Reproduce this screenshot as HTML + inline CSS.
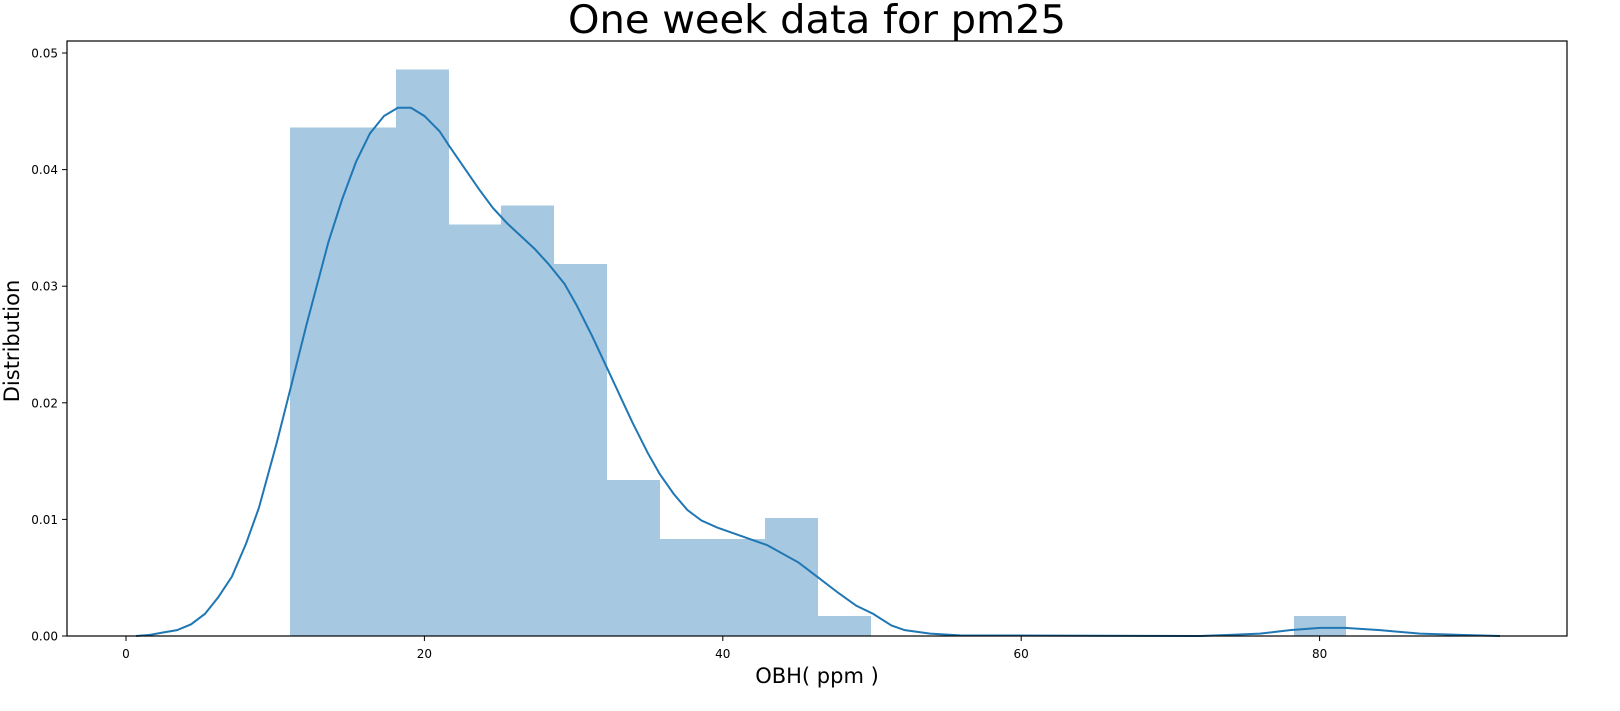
<!DOCTYPE html>
<html><head><meta charset="utf-8"><style>
body{margin:0;background:#fff;width:1620px;height:711px;overflow:hidden}
svg{display:block;font-family:"DejaVu Sans","Liberation Sans",sans-serif}
</style></head><body>
<svg id="chart" width="1620" height="711">
<text x="817" y="33" font-size="39" text-anchor="middle" textLength="498" lengthAdjust="spacingAndGlyphs">One week data for pm25</text>
<g id="bars" shape-rendering="crispEdges"></g>
<polyline id="kde" fill="none" stroke="#1f77b4" stroke-width="2"/>
<rect x="67" y="41" width="1500" height="595" fill="none" stroke="#000" stroke-width="1.2"/>
<g id="xticks"></g>
<g id="yticks"></g>
<text x="817" y="683" font-size="21" text-anchor="middle">OBH( ppm )</text>
<text transform="translate(19,341) rotate(-90)" font-size="21" text-anchor="middle">Distribution</text>
</svg>
<script>
const binStart = 11.0;
const binWidth = 3.54;
const binHeights = [0.0436,0.0436,0.0486,0.0353,0.0369,0.0319,0.0134,0.0083,0.0083,0.0101,0.0017,0,0,0,0,0,0,0,0,0.0017];
const kdeX = [0.67,1.61,2.48,3.42,4.36,5.29,6.17,7.10,8.04,8.91,10.11,11.04,12.10,13.57,14.50,15.43,16.35,17.29,18.22,19.10,20.00,21.01,21.68,23.67,24.60,25.54,27.39,28.32,29.39,30.19,31.25,32.31,33.91,34.97,35.77,36.70,37.63,38.57,39.63,40.96,42.96,45.08,46.41,47.74,48.94,50.08,51.3,52.2,53.9,55.9,71.98,74.0,76.0,78.02,80.03,81.70,84.05,86.73,89.41,92.09];
const kdeY = [0,0.0001,0.0003,0.0005,0.0010,0.0019,0.0033,0.0051,0.0079,0.0110,0.0166,0.0213,0.0267,0.0338,0.0375,0.0407,0.0431,0.0446,0.0453,0.0453,0.0446,0.0433,0.0420,0.0383,0.0367,0.0354,0.0332,0.0319,0.0302,0.0284,0.0257,0.0228,0.0184,0.0157,0.0139,0.0122,0.0108,0.0099,0.0093,0.0087,0.0078,0.0063,0.0050,0.0037,0.0026,0.0019,0.0009,0.0005,0.0002,0.00005,0,0.0001,0.0002,0.0005,0.0007,0.0007,0.0005,0.0002,0.0001,0];
const xTicks = [0,20,40,60,80];
const yTicks = [0,0.01,0.02,0.03,0.04,0.05];
const yTickLabels = ["0.00","0.01","0.02","0.03","0.04","0.05"];

const NS="http://www.w3.org/2000/svg";
const X = v => 126 + v*14.92;
const Y = v => 636 - v*11660;
const bars=document.getElementById('bars');
binHeights.forEach((h,i)=>{
  if(h<=0) return;
  const r=document.createElementNS(NS,'rect');
  const x0=Math.round(X(binStart+i*binWidth)), x1=Math.round(X(binStart+(i+1)*binWidth));
  r.setAttribute('x',x0);r.setAttribute('width',x1-x0);
  r.setAttribute('y',Y(h));r.setAttribute('height',Y(0)-Y(h));
  r.setAttribute('fill','#a6c8e0');
  
  
  bars.appendChild(r);
});
document.getElementById('kde').setAttribute('points',kdeX.map((x,i)=>X(x)+','+Y(kdeY[i])).join(' '));
const xg=document.getElementById('xticks');
xTicks.forEach(t=>{
  const l=document.createElementNS(NS,'line');
  l.setAttribute('x1',X(t));l.setAttribute('x2',X(t));l.setAttribute('y1',636);l.setAttribute('y2',641);l.setAttribute('stroke','#000');
  
  
  xg.appendChild(l);
  const s=document.createElementNS(NS,'text');
  s.setAttribute('x',X(t));s.setAttribute('y',658);s.setAttribute('font-size','12');s.setAttribute('text-anchor','middle');
  s.textContent=t;
  
  
  xg.appendChild(s);
});
const yg=document.getElementById('yticks');
yTicks.forEach((t,i)=>{
  const l=document.createElementNS(NS,'line');
  l.setAttribute('x1',62);l.setAttribute('x2',67);l.setAttribute('y1',Y(t));l.setAttribute('y2',Y(t));l.setAttribute('stroke','#000');
  
  
  yg.appendChild(l);
  const s=document.createElementNS(NS,'text');
  s.setAttribute('x',58);s.setAttribute('y',Y(t)+4.5);s.setAttribute('font-size','12');s.setAttribute('text-anchor','end');
  s.textContent=yTickLabels[i];
  
  
  yg.appendChild(s);
});
</script>
</body></html>
